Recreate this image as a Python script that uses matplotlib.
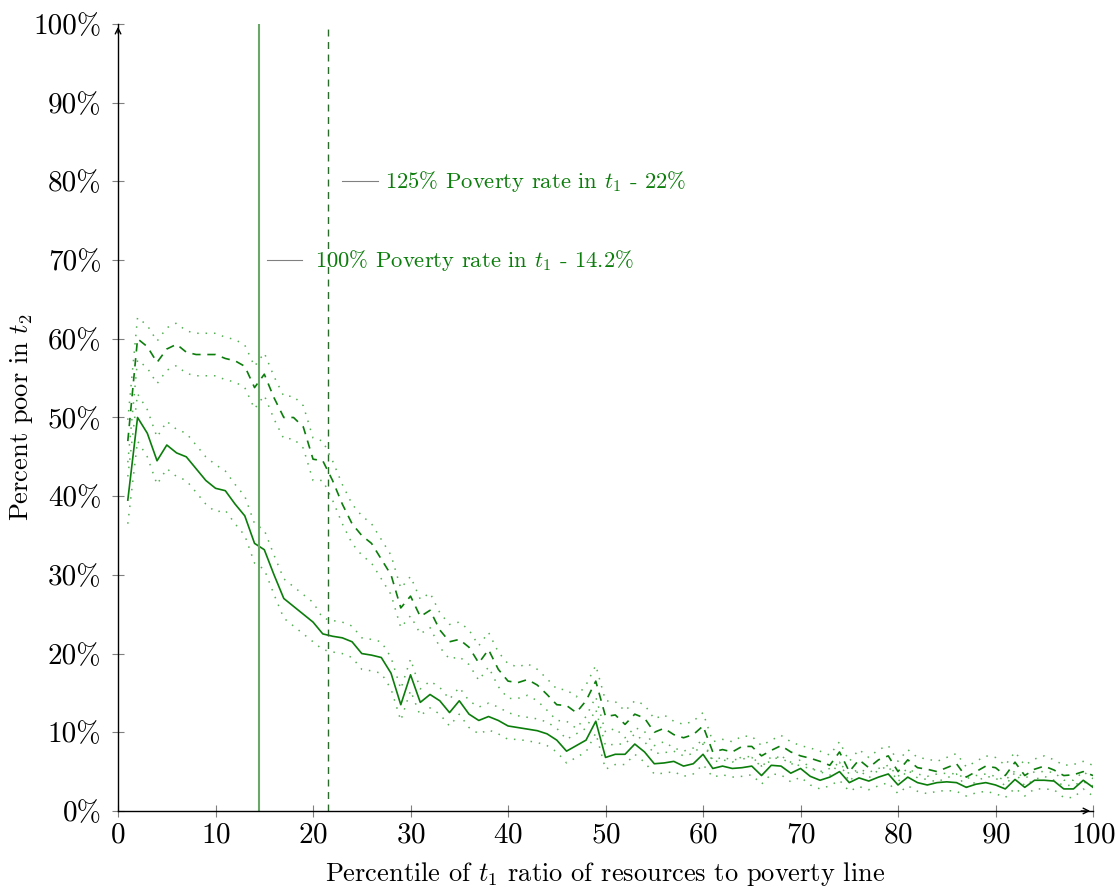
import numpy as np
import matplotlib
matplotlib.use("Agg")
import matplotlib.pyplot as plt
from matplotlib.ticker import FuncFormatter

plt.rcParams['font.family'] = 'cmr10'
plt.rcParams['mathtext.fontset'] = 'cm'
plt.rcParams['axes.formatter.use_mathtext'] = True

# Data (percentile 1..100)
percentile = list(range(1, 101))

poor_100 = [39.5, 50.0, 48.0, 44.5, 46.5, 45.5, 45.0, 43.5, 42.0, 41.0,
            40.7, 39.0, 37.5, 34.0, 33.2, 30.0, 27.0, 26.0, 25.0, 24.0,
            22.5, 22.2, 22.0, 21.5, 20.0, 19.8, 19.5, 17.5, 13.5, 17.3,
            13.8, 14.8, 14.0, 12.5, 14.0, 12.3, 11.5, 12.0, 11.5, 10.8,
            10.6, 10.4, 10.2, 9.8, 9.0, 7.6, 8.3, 9.0, 11.4, 6.8,
            7.2, 7.2, 8.5, 7.5, 6.0, 6.1, 6.3, 5.7, 6.0, 7.2,
            5.4, 5.7, 5.4, 5.5, 5.7, 4.5, 5.8, 5.7, 4.8, 5.4,
            4.4, 3.9, 4.3, 5.0, 3.6, 4.2, 3.8, 4.3, 4.7, 3.3,
            4.3, 3.6, 3.3, 3.6, 3.7, 3.6, 3.0, 3.4, 3.6, 3.3,
            2.8, 4.0, 3.0, 3.9, 3.9, 3.8, 2.8, 2.8, 3.9, 3.0]

poor_125 = [47.0, 60.0, 59.0, 57.0, 58.7, 59.3, 58.3, 58.0, 58.0, 58.0,
            57.5, 57.2, 56.5, 53.8, 55.5, 52.5, 50.0, 50.0, 48.8, 44.7,
            44.5, 42.0, 39.0, 36.5, 35.0, 34.0, 32.0, 30.0, 25.8, 27.3,
            24.7, 25.5, 23.0, 21.5, 21.8, 20.8, 18.8, 20.5, 18.0, 16.5,
            16.3, 16.7, 16.0, 14.8, 13.5, 13.4, 12.5, 14.0, 16.5, 12.0,
            12.2, 11.0, 12.3, 11.8, 10.0, 10.5, 9.7, 9.3, 9.7, 10.8,
            7.5, 7.8, 7.5, 8.2, 8.2, 7.0, 7.7, 8.3, 7.5, 7.0,
            6.7, 6.3, 5.8, 7.5, 5.0, 6.5, 5.5, 6.5, 7.0, 5.0,
            6.5, 5.5, 5.3, 5.0, 5.5, 6.0, 4.3, 5.0, 5.7, 5.5,
            4.5, 6.2, 4.5, 5.3, 5.7, 5.2, 4.5, 4.6, 5.0, 4.5]

# half-width of the dotted confidence bands
band_100 = [3.0] * 10 + [2.5] * 10 + [2.0] * 10 + [1.7] * 10 + [1.5] * 10 + [1.3] * 10 + [1.1] * 40
band_125 = [2.7] * 10 + [2.7] * 10 + [2.5] * 10 + [2.2] * 10 + [2.0] * 10 + [1.7] * 10 + [1.3] * 40

cut_100 = 14.5
cut_125 = 21.5
label_100 = r'100% Poverty rate in $t_1$ - 14.2%'
label_125 = r'125% Poverty rate in $t_1$ - 22%'

green = '#0b7d0b'
dot_green = '#55b055'

x = np.array(percentile)
p100 = np.array(poor_100)
p125 = np.array(poor_125)
b100 = np.array(band_100)
b125 = np.array(band_125)

fig = plt.figure(figsize=(11.2, 8.86), dpi=100)
ax = fig.add_axes([0.1054, 0.0847, 0.8705, 0.8882])

dots = (0, (1, 4.5))
ax.plot(x, p100 + b100, color=dot_green, lw=1.1, ls=dots)
ax.plot(x, p100 - b100, color=dot_green, lw=1.1, ls=dots)
ax.plot(x, p125 + b125, color=dot_green, lw=1.1, ls=dots)
ax.plot(x, p125 - b125, color=dot_green, lw=1.1, ls=dots)
ax.plot(x, p100, color=green, lw=1.2)
ax.plot(x, p125, color=green, lw=1.2, ls=(0, (5, 4)))

ax.axvline(cut_100, color='#6aa86a', lw=1.5)
ax.axvline(cut_125, color='#2a6a2a', lw=1.0, ls=(0, (5, 4)))

# annotation markers + labels
ax.plot([15.3, 18.9], [70, 70], color='gray', lw=0.8)
ax.text(20.2, 70, label_100, color=green, fontsize=16.3, va='center')
ax.plot([23.0, 26.7], [80, 80], color='gray', lw=0.8)
ax.text(27.4, 80, label_125, color=green, fontsize=16.3, va='center')

ax.set_xlim(0, 100)
ax.set_ylim(0, 100)
ax.set_xticks(range(0, 101, 10))
ax.set_yticks(range(0, 101, 10))
ax.yaxis.set_major_formatter(FuncFormatter(lambda v, p: f'{v:.0f}%'))
ax.tick_params(direction='inout', length=8, width=0.8, color='gray', labelsize=21)
ax.tick_params(axis='y', pad=8)
ax.tick_params(axis='x', pad=4)

for s in ['top', 'right']:
    ax.spines[s].set_visible(False)
for s in ['left', 'bottom']:
    ax.spines[s].set_linewidth(1.0)

# axis arrows
ax.annotate('', xy=(0, 100), xytext=(0, 98.5), arrowprops=dict(arrowstyle='->', color='black', lw=1.0), annotation_clip=False)
ax.annotate('', xy=(100, 0), xytext=(98.5, 0), arrowprops=dict(arrowstyle='->', color='black', lw=1.0), annotation_clip=False)

ax.set_xlabel(r'Percentile of $t_1$ ratio of resources to poverty line', fontsize=19, labelpad=8)
ax.set_ylabel(r'Percent poor in $t_2$', fontsize=19)
ax.yaxis.set_label_coords(-0.085, 0.5)

fig.savefig('out.png', dpi=100)
